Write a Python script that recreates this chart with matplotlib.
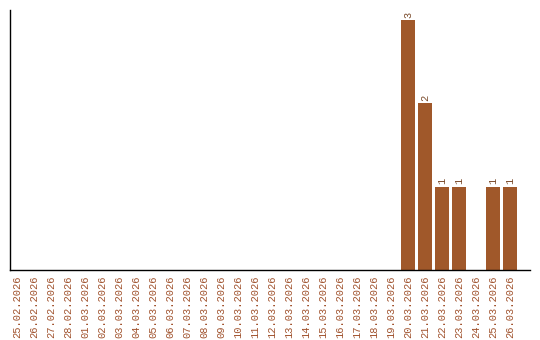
import matplotlib.pyplot as plt

dates = ['25.02.2026', '26.02.2026', '27.02.2026', '28.02.2026', '01.03.2026',
         '02.03.2026', '03.03.2026', '04.03.2026', '05.03.2026', '06.03.2026',
         '07.03.2026', '08.03.2026', '09.03.2026', '10.03.2026', '11.03.2026',
         '12.03.2026', '13.03.2026', '14.03.2026', '15.03.2026', '16.03.2026',
         '17.03.2026', '18.03.2026', '19.03.2026', '20.03.2026', '21.03.2026',
         '22.03.2026', '23.03.2026', '24.03.2026', '25.03.2026', '26.03.2026']
counts = [0, 0, 0, 0, 0, 0, 0, 0, 0, 0, 0, 0, 0, 0, 0,
          0, 0, 0, 0, 0, 0, 0, 0, 3, 2, 1, 1, 0, 1, 1]

bar_color = '#A0582A'
text_color = '#A0522D'

fig = plt.figure(figsize=(5.4, 3.4), dpi=100)
ax = fig.add_axes([10 / 540, 70 / 340, 520 / 540, 260 / 340])

x = list(range(len(dates)))
ax.bar(x, counts, width=0.82, color=bar_color)

# value labels above the bars
for i, v in enumerate(counts):
    if v > 0:
        ax.text(i, v + 0.03, str(v), rotation=90, ha='center', va='bottom',
                fontsize=7.5, family='Liberation Mono', color='#7a4a2a')

ax.set_xlim(-0.41, 30.18)
ax.set_ylim(0, 3.12)
ax.set_xticks(x)
ax.set_xticklabels(dates, rotation=90, fontsize=7.5, family='Liberation Mono',
                   color=text_color)
ax.tick_params(axis='x', length=0, pad=4)
ax.set_yticks([])
ax.spines['top'].set_visible(False)
ax.spines['right'].set_visible(False)
ax.spines['left'].set_linewidth(1)
ax.spines['bottom'].set_linewidth(1)

fig.savefig('out.png', dpi=100)
